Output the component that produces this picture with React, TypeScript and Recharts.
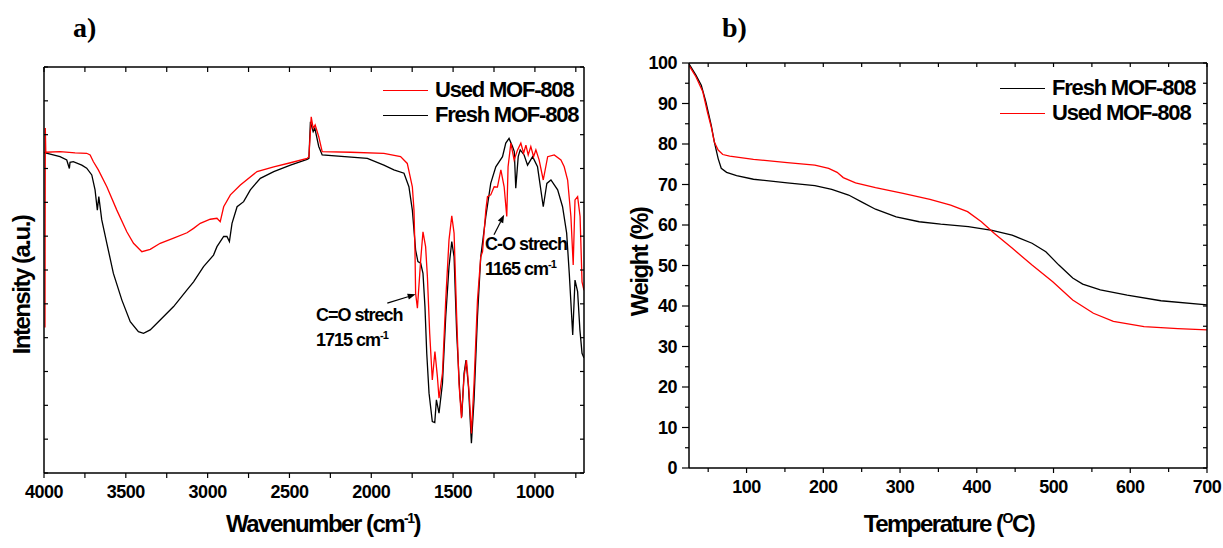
import React from "react";
import { LineChart, Line, XAxis, YAxis, ReferenceLine } from "recharts";

// a) FTIR, [wavenumber cm-1, intensity a.u.]
const irUsed: [number, number][] = [
  [3994, 4.3], [3992, 10.2], [3989, 9.48], [3902, 9.5], [3810, 9.46], [3739, 9.45], [3718, 9.4],
  [3698, 9.2], [3668, 8.96], [3616, 8.46], [3555, 7.77], [3494, 7.13], [3453, 6.79], [3402, 6.54],
  [3351, 6.61], [3290, 6.79], [3208, 6.94], [3126, 7.1], [3086, 7.23], [3045, 7.38], [2984, 7.5],
  [2943, 7.53], [2923, 7.43], [2902, 7.87], [2861, 8.22], [2800, 8.51], [2698, 8.91], [2596, 9.05],
  [2494, 9.17], [2392, 9.3], [2381, 9.35], [2367, 10.53], [2355, 10.19], [2343, 10.29], [2321, 9.94],
  [2300, 9.5], [2127, 9.48], [1923, 9.45], [1821, 9.35], [1780, 9.15], [1749, 8.46], [1739, 7.77],
  [1733, 6.59], [1729, 5.31], [1718, 4.87], [1698, 6.3], [1684, 7.13], [1668, 6.69], [1657, 5.8],
  [1643, 4.13], [1627, 2.75], [1611, 3.59], [1596, 2.85], [1586, 2.21], [1565, 2.95], [1545, 5.11],
  [1525, 6.89], [1508, 7.6], [1494, 7.09], [1478, 4.62], [1464, 2.65], [1449, 1.62], [1433, 2.85],
  [1418, 3.34], [1402, 2.36], [1388, 1.17], [1372, 2.65], [1351, 5.11], [1331, 6.39], [1320, 6.54],
  [1300, 7.77], [1290, 8.17], [1270, 8.22], [1249, 8.46], [1229, 8.45], [1208, 8.96], [1188, 8.46],
  [1172, 7.58], [1164, 9.05], [1147, 9.75], [1127, 9.25], [1106, 9.55], [1086, 9.75], [1069, 9.45],
  [1055, 9.69], [1041, 9.4], [1025, 9.65], [1008, 9.35], [994, 9.55], [974, 9.25], [949, 8.66],
  [922, 9.35], [882, 9.4], [841, 9.25], [821, 9.05], [800, 8.66], [780, 7.58], [766, 6.15],
  [755, 8.07], [739, 8.17], [724, 7.58], [712, 5.65], [700, 5.4],
];

const irFresh: [number, number][] = [
  [3998, 9.47], [3902, 9.35], [3861, 9.25], [3845, 9.0], [3841, 9.18], [3821, 9.2], [3769, 9.1],
  [3739, 9.01], [3708, 8.81], [3688, 8.37], [3674, 7.77], [3665, 8.17], [3647, 7.48], [3616, 6.79],
  [3576, 5.9], [3524, 5.11], [3473, 4.47], [3423, 4.18], [3392, 4.13], [3351, 4.23], [3290, 4.52],
  [3208, 4.92], [3126, 5.41], [3086, 5.65], [3025, 6.1], [2964, 6.44], [2943, 6.69], [2923, 6.84],
  [2902, 6.99], [2882, 6.99], [2867, 6.84], [2851, 7.38], [2820, 7.87], [2780, 8.02], [2739, 8.37],
  [2678, 8.71], [2596, 8.91], [2494, 9.1], [2392, 9.27], [2381, 9.3], [2372, 10.38], [2355, 10.09],
  [2345, 10.19], [2321, 9.65], [2300, 9.4], [2024, 9.3], [1923, 9.1], [1862, 8.96], [1800, 8.86],
  [1770, 8.46], [1749, 7.77], [1729, 6.59], [1715, 6.25], [1698, 6.2], [1684, 5.9], [1672, 4.92],
  [1661, 3.54], [1647, 2.36], [1627, 1.52], [1612, 1.49], [1602, 2.16], [1586, 1.77], [1565, 2.65],
  [1545, 4.62], [1525, 6.1], [1508, 6.84], [1494, 6.39], [1478, 4.13], [1459, 2.36], [1447, 1.66],
  [1433, 2.95], [1421, 3.34], [1406, 2.55], [1388, 0.88], [1372, 2.16], [1351, 4.62], [1331, 6.39],
  [1300, 7.58], [1270, 8.56], [1239, 9.05], [1198, 9.35], [1178, 9.75], [1158, 9.89], [1137, 9.65],
  [1126, 9.5], [1117, 8.42], [1102, 9.35], [1090, 9.55], [1066, 9.4], [1045, 9.1], [1014, 9.35],
  [984, 9.05], [949, 7.87], [927, 8.56], [902, 8.66], [861, 8.37], [831, 7.87], [806, 7.09],
  [790, 5.9], [769, 4.08], [755, 5.7], [739, 5.36], [725, 4.23], [712, 3.54], [700, 3.4],
];

const irTicks = [4000, 3750, 3500, 3250, 3000, 2750, 2500, 2250, 2000, 1750, 1500, 1250, 1000, 750];
const irYTicks = [0, 1, 2, 3, 4, 5, 6, 7, 8, 9, 10, 11, 12];

// b) TGA
const tgaFreshTemp = [25, 34, 41, 47, 54, 58, 63, 67, 74, 87, 109, 153, 189, 211, 233, 251, 268, 295, 325, 353, 389, 420, 446, 472, 490, 507, 525, 538, 561, 596, 640, 700];
const tgaFreshWeight = [99.8, 97.0, 94.5, 90.4, 84.6, 80.5, 76.4, 74.0, 73.0, 72.2, 71.3, 70.4, 69.7, 68.8, 67.4, 65.6, 63.9, 62.0, 60.8, 60.2, 59.6, 58.7, 57.5, 55.5, 53.4, 50.1, 46.9, 45.4, 44.0, 42.7, 41.3, 40.3];
const tgaUsedTemp = [25, 34, 43, 49, 54, 58, 63, 69, 78, 109, 153, 189, 207, 218, 226, 242, 268, 304, 339, 366, 388, 406, 423, 446, 472, 499, 525, 552, 578, 618, 662, 700];
const tgaUsedWeight = [99.4, 96.6, 92.9, 87.9, 84.2, 80.5, 78.5, 77.4, 77.0, 76.2, 75.4, 74.8, 74.0, 73.0, 71.7, 70.4, 69.2, 67.8, 66.3, 64.9, 63.3, 60.8, 57.9, 54.3, 50.1, 46.0, 41.5, 38.2, 36.2, 34.9, 34.4, 34.1];

const tgaXTicks = [50, 100, 150, 200, 250, 300, 350, 400, 450, 500, 550, 600, 650, 700];
const tgaYTicks = [0, 5, 10, 15, 20, 25, 30, 35, 40, 45, 50, 55, 60, 65, 70, 75, 80, 85, 90, 95, 100];

const irUsedData = irUsed.map(([w, v]) => ({ w, v }));
const irFreshData = irFresh.map(([w, v]) => ({ w, v }));
const tgaFreshData = tgaFreshTemp.map((t, i) => ({ t, w: tgaFreshWeight[i] }));
const tgaUsedData = tgaUsedTemp.map((t, i) => ({ t, w: tgaUsedWeight[i] }));

const FONT = "'Liberation Sans', Arial, Helvetica, sans-serif";
const RED = "#ff0000";

type TickCfg = {
  side: "bottom" | "top" | "left" | "right";
  len: number;
  minorLen?: number;
  isMajor?: (v: number) => boolean;
  showLabel?: boolean;
  inward?: boolean;
};

// tick mark + label drawn by hand (tickSize is 0, so x/y sit on the axis line)
function makeTick(cfg: TickCfg) {
  return (props: any) => {
    const { x, y, payload } = props;
    const v = payload.value;
    const major = cfg.isMajor ? cfg.isMajor(v) : true;
    const len = major ? cfg.len : cfg.minorLen ?? cfg.len;
    const s = cfg.inward ? -1 : 1;
    let x2 = x;
    let y2 = y;
    if (cfg.side === "bottom") y2 = y + s * len;
    else if (cfg.side === "top") y2 = y - s * len;
    else if (cfg.side === "left") x2 = x - s * len;
    else x2 = x + s * len;
    const textStyle = { fontFamily: FONT, fontWeight: 700, fontSize: 18, letterSpacing: "-0.5px" };
    let label = null;
    if (cfg.showLabel && major) {
      if (cfg.side === "bottom")
        label = (
          <text x={x} y={y + 19} textAnchor="middle" dominantBaseline="central" fill="#000" style={textStyle}>
            {v}
          </text>
        );
      else if (cfg.side === "left")
        label = (
          <text x={x - 12} y={y} textAnchor="end" dominantBaseline="central" fill="#000" style={textStyle}>
            {v}
          </text>
        );
    }
    return (
      <g>
        <line x1={x} y1={y} x2={x2} y2={y2} stroke="#000" strokeWidth={1.2} />
        {label}
      </g>
    );
  };
}

const arrowShape = (p: any) => {
  const { x1, y1, x2, y2 } = p;
  const a = Math.atan2(y2 - y1, x2 - x1);
  const L = 8;
  const W = 3;
  const bx = x2 - L * Math.cos(a);
  const by = y2 - L * Math.sin(a);
  const pts = `${x2},${y2} ${bx - W * Math.sin(a)},${by + W * Math.cos(a)} ${bx + W * Math.sin(a)},${by - W * Math.cos(a)}`;
  return (
    <g>
      <line x1={x1} y1={y1} x2={bx} y2={by} stroke="#000" strokeWidth={1.2} />
      <polygon points={pts} fill="#000" />
    </g>
  );
};

const abs = (left: number, top: number, extra: React.CSSProperties = {}): React.CSSProperties => ({
  position: "absolute",
  left,
  top,
  fontFamily: FONT,
  fontWeight: 700,
  color: "#000",
  whiteSpace: "nowrap",
  lineHeight: 1,
  ...extra,
});

function LegendRow({ left, cy, color, text }: { left: number; cy: number; color: string; text: string }) {
  return (
    <div style={abs(left, cy - 12, { display: "flex", alignItems: "center", height: 24 })}>
      <div style={{ width: 45, borderTop: `1.5px solid ${color}`, marginRight: 7 }} />
      <span style={{ fontSize: 22, letterSpacing: "-1.2px" }}>{text}</span>
    </div>
  );
}

const axisLine = { stroke: "#000", strokeWidth: 1.5 };

// shared props for the frame axes: tick lines drawn by makeTick
const frame = {
  type: "number" as const,
  allowDataOverflow: true,
  interval: 0 as const,
  tickSize: 0,
  tickMargin: 0,
  tickLine: false,
  axisLine,
};

export default function App() {
  return (
    <div style={{ position: "absolute", left: 0, top: 0, width: 1223, height: 548, background: "#fff", overflow: "hidden" }}>
      {/* a) FTIR: plot area x 44..584, y 67..473 */}
      <div style={{ position: "absolute", left: 0, top: 0 }}>
        <LineChart width={600} height={548} margin={{ top: 57, right: 6, bottom: 45, left: 4 }}>
          <XAxis {...frame} dataKey="w" domain={[700, 4000]} reversed ticks={irTicks} height={30}
            tick={makeTick({ side: "bottom", len: 5, isMajor: (v) => v % 500 === 0, showLabel: true })} />
          <XAxis {...frame} xAxisId="top" orientation="top" dataKey="w" domain={[700, 4000]} reversed ticks={irTicks} height={10}
            tick={makeTick({ side: "top", len: 5, inward: true })} />
          <YAxis {...frame} domain={[0, 12]} ticks={irYTicks} width={40}
            tick={makeTick({ side: "left", len: 4, inward: true })} />
          <YAxis {...frame} yAxisId="r" orientation="right" domain={[0, 12]} ticks={irYTicks} width={10}
            tick={makeTick({ side: "right", len: 4, inward: true })} />
          <Line data={irFreshData} dataKey="v" type="linear" stroke="#000" strokeWidth={1.3} dot={false} isAnimationActive={false} />
          <Line data={irUsedData} dataKey="v" type="linear" stroke={RED} strokeWidth={1.3} dot={false} isAnimationActive={false} />
          <ReferenceLine segment={[{ x: 1902, y: 5.02 }, { x: 1729, y: 5.28 }]} shape={arrowShape} />
          <ReferenceLine segment={[{ x: 1250, y: 7.04 }, { x: 1188, y: 7.63 }]} shape={arrowShape} />
        </LineChart>
      </div>

      {/* b) TGA: plot area x 689..1207, y 63..468 */}
      <div style={{ position: "absolute", left: 600, top: 0 }}>
        <LineChart width={623} height={548} margin={{ top: 53, right: 6, bottom: 50, left: 29 }}>
          <XAxis {...frame} dataKey="t" domain={[25, 700]} ticks={tgaXTicks} height={30}
            tick={makeTick({ side: "bottom", len: 5, minorLen: 4, isMajor: (v) => v % 100 === 0, showLabel: true })} />
          <XAxis {...frame} xAxisId="top" orientation="top" dataKey="t" domain={[25, 700]} ticks={tgaXTicks} height={10}
            tick={makeTick({ side: "top", len: 4, inward: true })} />
          <YAxis {...frame} domain={[0, 100]} ticks={tgaYTicks} width={60}
            tick={makeTick({ side: "left", len: 7, minorLen: 4, isMajor: (v) => v % 10 === 0, showLabel: true })} />
          <YAxis {...frame} yAxisId="r" orientation="right" domain={[0, 100]} ticks={tgaYTicks} width={10}
            tick={makeTick({ side: "right", len: 4, inward: true })} />
          <Line data={tgaFreshData} dataKey="w" type="linear" stroke="#000" strokeWidth={1.3} dot={false} isAnimationActive={false} />
          <Line data={tgaUsedData} dataKey="w" type="linear" stroke={RED} strokeWidth={1.3} dot={false} isAnimationActive={false} />
        </LineChart>
      </div>

      {/* panel letters */}
      <div style={abs(73, 14, { fontFamily: "'Liberation Serif', 'Times New Roman', serif", fontSize: 28 })}>a)</div>
      <div style={abs(722, 14, { fontFamily: "'Liberation Serif', 'Times New Roman', serif", fontSize: 28 })}>b)</div>

      {/* legends */}
      <LegendRow left={383} cy={90} color={RED} text="Used MOF-808" />
      <LegendRow left={383} cy={115} color="#000" text="Fresh MOF-808" />
      <LegendRow left={1000} cy={88} color="#000" text="Fresh MOF-808" />
      <LegendRow left={1000} cy={113} color={RED} text="Used MOF-808" />

      {/* annotations */}
      <div style={abs(316, 306, { fontSize: 18, letterSpacing: "-1px" })}>C=O strech</div>
      <div style={abs(316, 330, { fontSize: 18, letterSpacing: "-1px" })}>
        1715 cm<sup style={{ fontSize: 11 }}>-1</sup>
      </div>
      <div style={abs(485, 235, { fontSize: 18, letterSpacing: "-1px" })}>C-O strech</div>
      <div style={abs(485, 259, { fontSize: 18, letterSpacing: "-1px" })}>
        1165 cm<sup style={{ fontSize: 11 }}>-1</sup>
      </div>

      {/* axis titles */}
      <div style={abs(223, 511, { width: 200, textAlign: "center", fontSize: 24, letterSpacing: "-1.5px" })}>
        Wavenumber (cm<sup style={{ fontSize: 14 }}>-1</sup>)
      </div>
      <div style={abs(849, 511, { width: 200, textAlign: "center", fontSize: 24, letterSpacing: "-1.5px" })}>
        Temperature (<sup style={{ fontSize: 14 }}>O</sup>C)
      </div>
      <div
        style={abs(23 - 100, 285 - 13, {
          width: 200,
          height: 26,
          textAlign: "center",
          fontSize: 24,
          letterSpacing: "-1.5px",
          transform: "rotate(-90deg)",
          transformOrigin: "100px 13px",
        })}
      >
        Intensity (a.u.)
      </div>
      <div
        style={abs(641 - 100, 262 - 13, {
          width: 200,
          height: 26,
          textAlign: "center",
          fontSize: 24,
          letterSpacing: "-1.5px",
          transform: "rotate(-90deg)",
          transformOrigin: "100px 13px",
        })}
      >
        Weight (%)
      </div>
    </div>
  );
}
